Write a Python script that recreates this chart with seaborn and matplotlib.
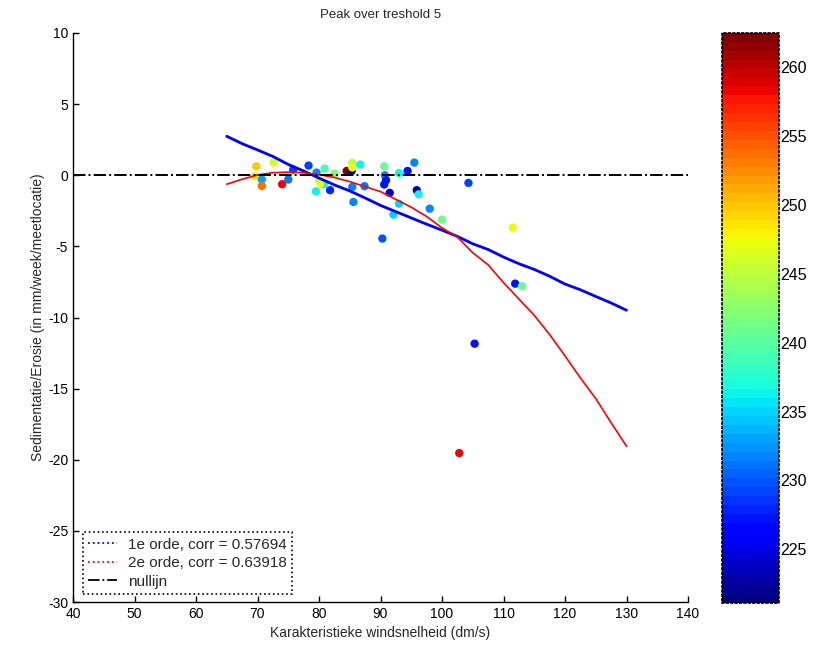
import numpy as np
import pandas as pd
import matplotlib
matplotlib.use("Agg")
import matplotlib.pyplot as plt
import seaborn as sns
from matplotlib.lines import Line2D
from matplotlib.colors import Normalize
from matplotlib.cm import ScalarMappable

# ---------------- data ----------------
wind = [69.8, 72.6, 69.6, 70.7, 70.7, 74.0, 75.0, 75.8, 78.3, 79.6,
        80.9, 80.0, 80.8, 79.5, 81.8, 82.5, 84.5, 85.3, 85.4, 85.4,
        86.7, 85.4, 85.6, 87.4, 90.6, 90.7, 90.9, 90.6, 91.5, 93.0,
        92.1, 93.0, 94.4, 95.5, 95.9, 96.2, 98.0, 100.0, 104.3, 111.5,
        111.9, 113.0, 105.3, 102.8, 90.3, 80.2]
sed = [0.63, 0.89, -0.07, -0.30, -0.75, -0.63, -0.30, 0.40, 0.68, 0.19,
       0.47, -0.35, -0.63, -1.13, -1.05, 0.12, 0.30, 0.30, 0.87, 0.55,
       0.75, -0.82, -1.88, -0.77, 0.63, 0.00, -0.35, -0.65, -1.24, -2.00,
       -2.77, 0.16, 0.30, 0.89, -1.05, -1.34, -2.35, -3.12, -0.54, -3.68,
       -7.62, -7.80, -11.84, -19.53, -4.45, -0.60]
direction = [250, 246, 248, 233, 254, 258, 231, 229, 229, 232,
             239, 244, 236, 236, 228, 242, 262, 223, 245, 247,
             236, 232, 232, 231, 241, 232, 227, 227, 224, 235,
             235, 236, 227, 232, 223, 236, 232, 241, 229, 247,
             227, 241, 227, 258, 230, 247]

fit_x = [65, 67.5, 70, 72.5, 75, 77.5, 80, 82.5, 85, 87.5, 90, 92.5, 95,
         97.5, 100, 102.5, 105, 107.5, 110, 112.5, 115, 117.5, 120, 122.5,
         125, 127.5, 130]
fit1_y = [2.74, 2.22, 1.78, 1.32, 0.76, 0.30, -0.20, -0.68, -1.10, -1.60,
          -2.12, -2.56, -3.00, -3.44, -3.86, -4.30, -4.82, -5.22, -5.75,
          -6.22, -6.62, -7.10, -7.65, -8.05, -8.52, -8.98, -9.49]
fit2_y = [-0.63, -0.28, 0.02, 0.18, 0.22, 0.18, 0.04, -0.16, -0.45, -0.80,
          -1.15, -1.70, -2.25, -2.90, -3.70, -4.35, -5.45, -6.30, -7.55,
          -8.70, -9.85, -11.20, -12.70, -14.25, -15.70, -17.40, -19.05]
null_x = [40, 140]
null_y = [0, 0]

labels = ["1e orde, corr = 0.57694", "2e orde, corr = 0.63918", "nullijn"]
x_ticks = [40, 50, 60, 70, 80, 90, 100, 110, 120, 130, 140]
y_ticks = [-30, -25, -20, -15, -10, -5, 0, 5, 10]
cb_ticks = [225, 230, 235, 240, 245, 250, 255, 260]
cb_range = (221.1, 262.5)

# ---------------- plot ----------------
sns.set_style("white")
plt.rcParams["font.family"] = ["Liberation Sans", "DejaVu Sans"]
plt.rcParams["axes.unicode_minus"] = False

fig = plt.figure(figsize=(8.16, 6.46), dpi=100)
ax = fig.add_axes([73 / 816, 1 - 602 / 646, 615 / 816, 569 / 646])
cax = fig.add_axes([722 / 816, 1 - 603 / 646, 57 / 816, 570 / 646])

cmap = plt.get_cmap("jet", 64)
norm = Normalize(*cb_range)

df = pd.DataFrame({"wind": wind, "sed": sed, "dir": direction})
sns.scatterplot(data=df, x="wind", y="sed", hue="dir", palette=cmap,
                hue_norm=norm, s=36, linewidth=0, legend=False, ax=ax,
                zorder=2)

sns.lineplot(x=fit_x, y=fit1_y, color="#0000ff", lw=2.0, sort=False,
             estimator=None, ax=ax, zorder=3)
sns.lineplot(x=fit_x, y=fit2_y, color="#ff0000", lw=1.2, sort=False,
             estimator=None, ax=ax, zorder=3)
sns.lineplot(x=null_x, y=null_y, color="black", lw=1.4, ls="-.",
             sort=False, estimator=None, ax=ax, zorder=3)

ax.set_xlim(40, 140)
ax.set_ylim(-30, 10)
ax.set_xticks(x_ticks)
ax.set_yticks(y_ticks)
ax.tick_params(direction="in", length=4, width=1, labelsize=10,
               colors="black", left=True, bottom=True)
for s in ["top", "right"]:
    ax.spines[s].set_visible(False)
for s in ["left", "bottom"]:
    ax.spines[s].set_color("black")
    ax.spines[s].set_linewidth(1.0)

ax.set_xlabel("Karakteristieke windsnelheid (dm/s)", fontsize=10, labelpad=4)
ax.set_ylabel("Sedimentatie/Erosie (in mm/week/meetlocatie)", fontsize=10,
              labelpad=2)
ax.set_title("Peak over treshold 5", fontsize=9.5, pad=11)

handles = [Line2D([], [], color="#0000ff", ls=":", lw=1.3),
           Line2D([], [], color="#ff0000", ls=":", lw=1.3),
           Line2D([], [], color="black", ls="-.", lw=1.3)]
leg = ax.legend(handles, labels, loc="lower left",
                bbox_to_anchor=(0.016, 0.014), borderaxespad=0,
                fontsize=11, fancybox=False, framealpha=1,
                handlelength=1.9, handletextpad=0.7, labelspacing=0.3,
                borderpad=0.35)
fr = leg.get_frame()
fr.set_edgecolor("black")
fr.set_linestyle(":")
fr.set_linewidth(1.2)

cb = fig.colorbar(ScalarMappable(norm=norm, cmap=cmap), cax=cax)
cb.set_ticks(cb_ticks)
cax.tick_params(direction="in", length=4, width=1.5, left=True, right=True,
                labelsize=11.5, colors="black", pad=1)
cb.outline.set_linestyle(":")
cb.outline.set_linewidth(1.2)
cb.outline.set_edgecolor("black")

fig.savefig("out.png", dpi=100)
